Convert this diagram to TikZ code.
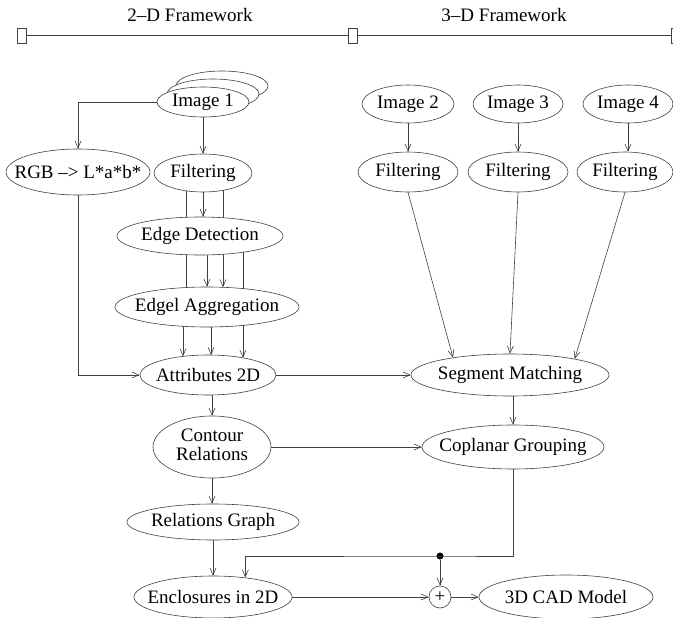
\documentclass[tikz,border=0pt]{standalone}
\usepackage{fontspec}
\setmainfont{Liberation Serif}
\usetikzlibrary{shapes.geometric,arrows.meta,calc}
\newcommand\nt[1]{\makebox[0pt]{#1}}
\begin{document}
\begin{tikzpicture}[x=1pt,y=-1pt,
  font=\fontsize{19}{22}\selectfont,
  ell/.style={draw=black!75, line width=0.6pt, ellipse, inner sep=0pt, fill=white},
  sz/.style 2 args={minimum width=#1pt, minimum height=#2pt},
  ln/.style={draw=black!75, line width=0.6pt},
  arr/.style={draw=black!75, line width=0.6pt, -{Straight Barb[length=7pt,width=6pt]}},
  brk/.style={draw=black!75, line width=0.6pt, rectangle, inner sep=0pt, minimum width=9pt, minimum height=15pt},
  lab/.style={inner sep=0pt}]
\useasboundingbox (0,0) rectangle (673,618);

% header
\node[lab] (t2d) at (190,15) {2--D Framework};
\node[lab] (t3d) at (504,15) {3--D Framework};
\node[brk] (b1) at (21.5,35.5) {};
\node[brk] (b2) at (352.5,35.5) {};
\node[brk] (b3) at (675.5,35.5) {};
\draw[ln] (b1.east) -- (b2.west);
\draw[ln] (b2.east) -- (b3.west);

% left column
\node[ell,sz={92}{30}] (img1c) at (222,86) {};
\node[ell,sz={92}{30}] (img1b) at (213,94) {};
\node[ell,sz={92}{30}] (img1) at (203,102) {\nt{Image 1}};
\node[ell,sz={144}{46}] (rgb) at (78,172) {\nt{RGB --> L*a*b*}};
\node[ell,sz={98}{38}] (filt1) at (203,173) {\nt{Filtering}};
\node[ell,sz={166}{38}] (edge) at (200,236) {\nt{Edge Detection}};
\node[ell,sz={184}{40}] (edgel) at (207,307) {\nt{Edgel Aggregation}};
\node[ell,sz={136}{40}] (attr) at (208,375) {\nt{Attributes 2D}};
\node[ell,sz={118}{62}] (contour) at (212,447) {\nt{\begin{tabular}{@{}c@{}}Contour\\[-3pt]Relations\end{tabular}}};
\node[ell,sz={172}{36}] (relg) at (213,522) {\nt{Relations Graph}};
\node[ell,sz={158}{42}] (encl) at (213,597) {\nt{Enclosures in 2D}};

% right column
\node[ell,sz={92}{38}] (img2) at (408,104) {\nt{Image 2}};
\node[ell,sz={90}{38}] (img3) at (518,104) {\nt{Image 3}};
\node[ell,sz={90}{38}] (img4) at (628,104) {\nt{Image 4}};
\node[ell,sz={100}{40}] (f2) at (408,172) {\nt{Filtering}};
\node[ell,sz={100}{40}] (f3) at (518,172) {\nt{Filtering}};
\node[ell,sz={96}{40}] (f4) at (625,172) {\nt{Filtering}};
\node[ell,sz={198}{42}] (seg) at (510,375) {\nt{Segment Matching}};
\node[ell,sz={182}{44}] (cop) at (513,447) {\nt{Coplanar Grouping}};
\node[draw=black!75, line width=0.6pt, circle, inner sep=0pt, minimum size=22pt] (plus) at (440,597) {+};
\node[ell,sz={174}{44}] (cad) at (566,597) {\nt{3D CAD Model}};
\node[circle, fill=black, inner sep=0pt, minimum size=7pt] (dot) at (440,556) {};

% connectors left
\draw[arr] (img1.south) -- (filt1.north);
\draw[arr] (img1.west) -| (rgb.north);
\draw[ln] ($(filt1.center)+(-17,17.8)$) -- ($(edge.center)+(-14,-18.7)$);
\draw[ln] ($(filt1.center)+(20,17.3)$) -- ($(edge.center)+(23,-18.3)$);
\draw[arr] (filt1.south) -- (filt1.south |- edge.north);
\draw[ln] ($(edge.center)+(-14,18.7)$) -- ($(edgel.center)+(-21,-19.5)$);
\draw[arr] ($(edge.center)+(7,18.9)$) -- (edgel.north);
\draw[arr] ($(edge.center)+(23,18.3)$) -- ($(edgel.center)+(16,-19.7)$);
\draw[ln] ($(edge.center)+(43,16.2)$) -- ($(edgel.center)+(36,-18.4)$);
\draw[arr] ($(edgel.center)+(-24,19.3)$) -- ($(attr.center)+(-25,-18.6)$);
\draw[arr] ($(edgel.center)+(4,20)$) -- ($(attr.center)+(3,-20)$);
\draw[arr] ($(edgel.center)+(36,18.4)$) -- ($(attr.center)+(35,-17.1)$);
\draw[arr] (rgb.south) |- (attr.west);
\draw[arr] (attr.south -| contour.north) -- (contour.north);
\draw[arr] (contour.south) -- (contour.south |- relg.north);
\draw[arr] (relg.south) -- (relg.south |- encl.north);

% connectors right
\draw[arr] (img2.south) -- (f2.north);
\draw[arr] (img3.south) -- (f3.north);
\draw[arr] (img4.south) -- (img4.south |- f4.north);
\draw[arr] (f2.south) -- (seg.163.7);
\draw[arr] (f3.south) -- (seg.north);
\draw[arr] (f4.south) -- (seg.14.8);
\draw[arr] (attr.east) -- (seg.west);
\draw[arr] (seg.south -| cop.north) -- (cop.north);
\draw[arr] (contour.east) -- (cop.west);
\draw[arr] (cop.south) |- (dot.center) -| (encl.31.9);
\draw[arr] (dot.south) -- (plus.north);
\draw[arr] (encl.east) -- (plus.west);
\draw[arr] (plus.east) -- (cad.west);
\end{tikzpicture}
\end{document}
